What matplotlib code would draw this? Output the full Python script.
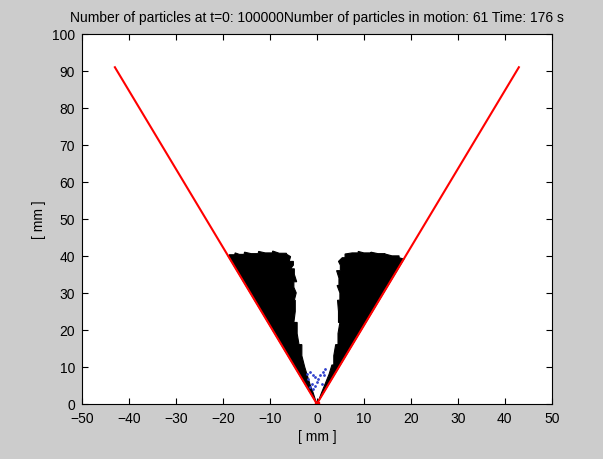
import numpy as np
import matplotlib.pyplot as plt

plt.rcParams['font.family'] = ['Liberation Sans', 'DejaVu Sans']

# red boundary lines of the cone
cone_x = [-43.0, 0.0, 43.0]
cone_y = [91.0, 0.0, 91.0]

# outline of the settled particle heap, left lobe
left_x = [0.0, -18.9, -18.6, -17.5, -17.4, -16.5, -15.5, -15.4, -14.0, -12.5, -12.4,
          -11.0, -9.5, -9.4, -8.0, -6.5, -6.4, -5.6, -5.9, -5.0, -5.0, -5.6, -4.8,
          -4.8, -4.3, -4.9, -4.9, -4.4, -4.8, -4.6, -4.6, -4.9, -4.2, -4.2, -3.8,
          -3.2, -3.2, -2.6, -2.0, -1.4, -0.8, -0.3]
left_y = [0.0, 40.0, 40.3, 40.3, 40.8, 40.4, 40.4, 41.0, 40.6, 40.6, 41.2,
          40.8, 40.8, 41.3, 40.7, 40.7, 40.4, 39.8, 38.5, 38.5, 37.5, 36.5, 36.5,
          35.0, 33.0, 33.0, 31.5, 30.0, 28.0, 28.0, 25.0, 22.0, 22.0, 19.0, 16.0,
          16.0, 13.0, 10.0, 7.5, 5.0, 3.0, 1.0]

# right lobe
right_x = [0.0, 0.4, 1.0, 1.8, 2.6, 3.2, 3.6, 3.6, 4.0, 4.5, 4.5, 4.9, 4.6, 4.6,
           4.4, 4.9, 4.9, 4.3, 4.7, 4.7, 4.2, 5.0, 5.0, 4.6, 5.4, 6.0, 6.0, 7.5,
           8.8, 8.8, 10.0, 11.5, 11.5, 13.0, 14.5, 14.5, 16.0, 17.5, 17.5, 18.3, 18.6]
right_y = [0.0, 1.0, 3.0, 5.5, 8.0, 10.5, 10.5, 13.0, 16.0, 16.0, 19.0, 22.0, 22.0,
           25.0, 28.0, 28.0, 30.0, 32.0, 32.0, 34.0, 36.0, 36.0, 37.5, 38.5, 39.5,
           39.5, 40.5, 40.8, 40.8, 41.2, 40.8, 40.8, 41.0, 40.6, 40.6, 40.5, 40.0,
           40.0, 39.5, 39.2, 39.3]

# particles still in motion
moving_x = [-2.2, -1.5, -0.8, -1.85, -0.4, 0.0, -1.1, 0.3, 1.3, 1.7, 1.6, 0.6,
            -0.4, -1.5, 1.0, -0.8]
moving_y = [8.1, 8.6, 7.7, 6.8, 7.2, 5.9, 5.4, 6.8, 8.6, 9.5, 7.7, 7.7,
            4.9, 4.5, 5.4, 4.1]

fig = plt.figure(figsize=(6.03, 4.60), dpi=100, facecolor='#cccccc')
ax = fig.add_axes([0.136, 0.12, 0.779, 0.804])

ax.fill(left_x, left_y, color='black', lw=0.8, edgecolor='black')
ax.fill(right_x, right_y, color='black', lw=0.8, edgecolor='black')
ax.plot(moving_x, moving_y, '.', color='#3344cc', ms=2)
ax.plot(cone_x, cone_y, color='red', lw=1.5)
ax.plot([0], [0], 's', color='red', ms=3)

ax.set_xlim(-50, 50)
ax.set_ylim(0, 100)
ax.set_xticks(np.arange(-50, 51, 10))
ax.set_yticks(np.arange(0, 101, 10))
ax.tick_params(direction='in', top=True, right=True, length=4, labelsize=10)
ax.tick_params(axis='x', pad=5)
ax.tick_params(axis='y', pad=5)
ax.set_xlabel('[ mm ]', fontsize=10, labelpad=3)
ax.set_ylabel('[ mm ]', fontsize=10)
ax.set_title('Number of particles at t=0: 100000Number of particles in motion: 61 Time: 176 s',
             fontsize=10, pad=9)

fig.savefig('out.png', dpi=100, facecolor=fig.get_facecolor())
